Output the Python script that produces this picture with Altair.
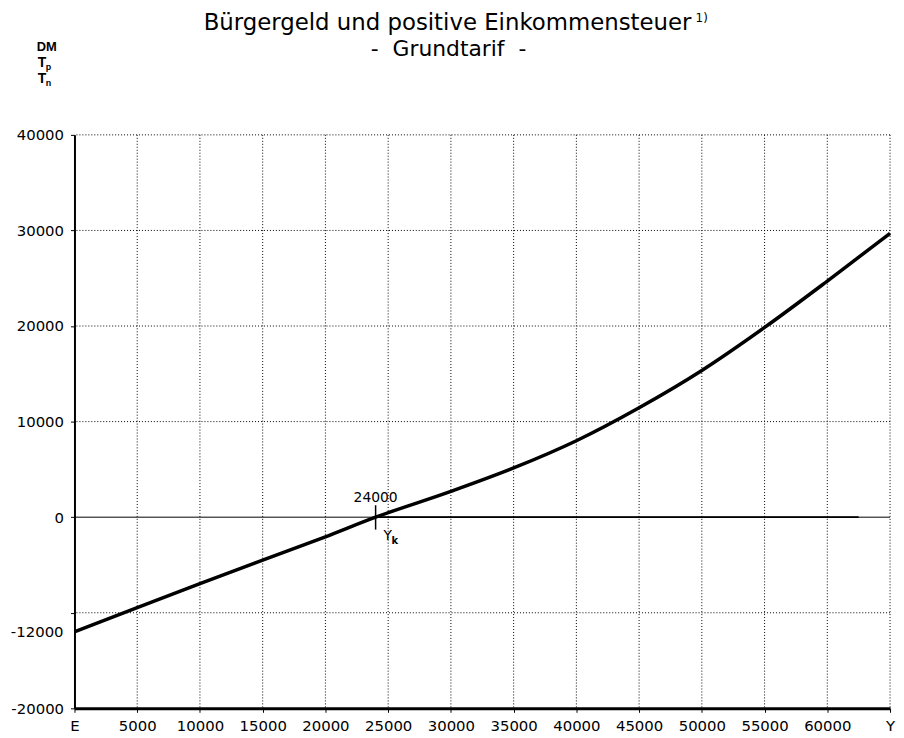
import altair as alt
import pandas as pd

# ---- data ----
income = [0, 5000, 10000, 15000, 20000, 24000, 30000, 35000, 40000,
          45000, 50000, 55000, 60000, 65000]
tax = [-12000, -9450, -6950, -4500, -2050, 0, 2700, 5150, 8000,
       11450, 15350, 19850, 24700, 29700]
x_grid = [5000, 10000, 15000, 20000, 25000, 30000, 35000, 40000, 45000,
          50000, 55000, 60000, 65000]
y_grid = [-10000, 10000, 20000, 30000, 40000]
x_ticks = [0, 5000, 10000, 15000, 20000, 25000, 30000, 35000, 40000, 45000,
           50000, 55000, 60000, 65000]
y_ticks = [-20000, -10000, 0, 10000, 20000, 30000, 40000]
extra_y_label = [-12000]
break_even = [24000]
title_text = "Bürgergeld und positive Einkommensteuer"
subtitle_text = "-\u00a0\u00a0Grundtarif\u00a0\u00a0-"

W, H = 822, 578
FONT = "DejaVu Sans"

xs = alt.Scale(domain=[0, 65000], nice=False, zero=False)
ys = alt.Scale(domain=[-20000, 40000], nice=False, zero=False)

df_line = pd.DataFrame({"Y": income, "T": tax})
df_xg = pd.DataFrame({"x": x_grid})
df_yg = pd.DataFrame({"y": y_grid})
df_be = pd.DataFrame({"x": break_even})
one = pd.DataFrame({"a": [0]})

dotted = dict(color="black", strokeDash=[1, 2], strokeWidth=1)

x_axis = alt.Axis(
    values=x_ticks, format="d",
    labelExpr="datum.value == 0 ? 'E' : (datum.value == 65000 ? 'Y' : datum.label)",
    grid=False, domainColor="black", domainWidth=3, tickColor="black",
    tickSize=4, labelFont=FONT, labelFontSize=15, labelColor="black",
    labelPadding=6, title=None, labelFlush=False,
)
y_axis = alt.Axis(
    values=y_ticks, format="d",
    labelExpr="datum.value == -10000 ? '' : (datum.value < 0 ? '-' + abs(datum.value) : datum.label)",
    grid=False, domainColor="black", domainWidth=2, tickColor="black",
    tickSize=4, labelFont=FONT, labelFontSize=15, labelColor="black",
    labelPadding=7, title=None,
)

grid_x = alt.Chart(df_xg).mark_rule(**dotted).encode(
    x=alt.X("x:Q", scale=xs, axis=x_axis))
grid_y = alt.Chart(df_yg).mark_rule(**dotted).encode(
    y=alt.Y("y:Q", scale=ys, axis=y_axis))

zero_line = alt.Chart(one).mark_rule(color="black", strokeWidth=1).encode(
    y=alt.datum(0, scale=ys))
zero_bold = alt.Chart(df_be).mark_rule(color="black", strokeWidth=1.8).encode(
    x=alt.X("x:Q", scale=xs), x2=alt.datum(62500), y=alt.datum(0, scale=ys))

curve = alt.Chart(df_line).mark_line(
    color="black", strokeWidth=3.5, interpolate="monotone").encode(
    x=alt.X("Y:Q", scale=xs), y=alt.Y("T:Q", scale=ys))

be_tick = alt.Chart(df_be).mark_rule(color="black", strokeWidth=1.5).encode(
    x=alt.X("x:Q", scale=xs), y=alt.datum(1250, scale=ys), y2=alt.datum(-1300))
be_label = alt.Chart(df_be).mark_text(
    font=FONT, fontSize=14, color="black", align="center", baseline="middle",
    dx=0, dy=-19).encode(
    x=alt.X("x:Q", scale=xs), y=alt.datum(0, scale=ys), text=alt.Text("x:Q", format="d"))
yk_Y = alt.Chart(df_be).mark_text(
    font=FONT, fontSize=14, color="black", align="left", baseline="middle",
    dx=8, dy=19).encode(
    x=alt.X("x:Q", scale=xs), y=alt.datum(0, scale=ys), text=alt.value("Y"))
yk_k = alt.Chart(df_be).mark_text(
    font=FONT, fontSize=10, fontWeight="bold", color="black", align="left",
    baseline="middle", dx=16, dy=24).encode(
    x=alt.X("x:Q", scale=xs), y=alt.datum(0, scale=ys), text=alt.value("k"))

extra_lab = alt.Chart(pd.DataFrame({"v": extra_y_label})).mark_text(
    font=FONT, fontSize=15, color="black", align="right", baseline="middle").encode(
    x=alt.value(-11), y=alt.Y("v:Q", scale=ys),
    text=alt.Text("lab:N")).transform_calculate(lab="'-' + abs(datum.v)")


def label(txt, x, y, size, align="center", weight="normal", font=FONT):
    return alt.Chart(one).mark_text(
        text=txt, font=font, fontSize=size, fontWeight=weight, color="black",
        align=align, baseline="middle").encode(x=alt.value(x), y=alt.value(y))


texts = [
    label(title_text, 376, -113, 23),
    label("1)", 626, -118, 12, align="left"),
    label(subtitle_text, 377, -86, 22),
    label("DM", -38, -89, 13, align="left", weight="bold", font="Liberation Sans"),
    label("T", -37, -72, 14, align="left", weight="bold", font="Liberation Sans"),
    label("p", -29, -68, 9, align="left", weight="bold", font="Liberation Sans"),
    label("T", -37, -56, 14, align="left", weight="bold", font="Liberation Sans"),
    label("n", -29, -52, 9, align="left", weight="bold", font="Liberation Sans"),
]

chart = alt.layer(
    grid_x, grid_y, zero_line, zero_bold, curve, be_tick, be_label, yk_Y, yk_k,
    extra_lab, *texts
).properties(
    width=W, height=H, autosize="none",
    padding={"left": 67, "top": 125, "right": 6, "bottom": 24},
    background="white",
).configure_view(stroke=None)

chart.save("out.html", embed_options={"renderer": "svg", "actions": False})
